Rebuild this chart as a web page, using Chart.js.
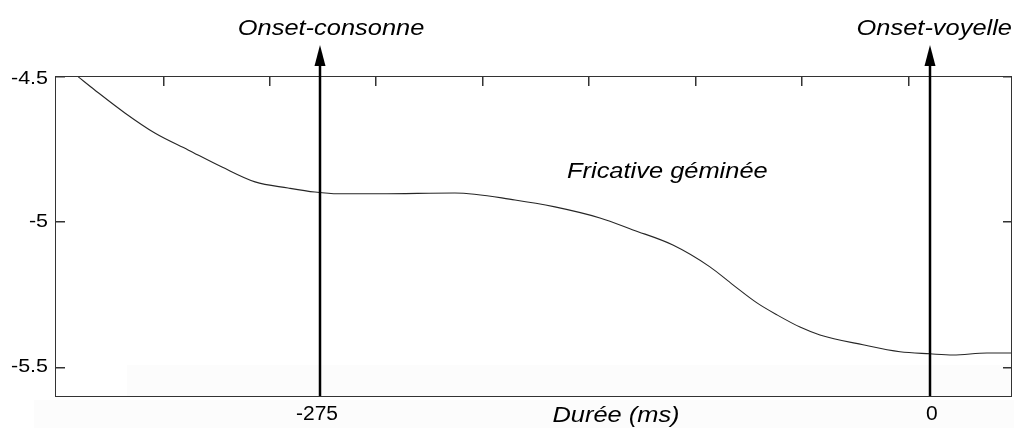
<!DOCTYPE html>
<html>
<head>
<meta charset="utf-8">
<script src="https://cdn.jsdelivr.net/npm/chart.js@4/dist/chart.umd.min.js"></script>
<style>
  body { margin: 0; background: #fff; }
  #wrap { width: 1014px; height: 428px; position: relative; }
</style>
</head>
<body>
<div id="wrap"><canvas id="chart1"></canvas></div>
<script>
// durée (ms) relative to vowel onset
var durations = [-384, -376.6, -363, -349.5, -334.5, -319.2, -304.3, -289.4, -277.3, -266.9, -248, -214.2, -187.1, -169.1, -148.8, -133.9, -115.9, -99.2, -88.8, -78, -69, -58.6, -49.6, -30.2, -13.5, 0, 10.4, 25.7, 37.4]
var amplitudes = [-4.503, -4.548, -4.627, -4.696, -4.754, -4.813, -4.864, -4.885, -4.899, -4.905, -4.905, -4.902, -4.926, -4.95, -4.988, -5.029, -5.081, -5.156, -5.218, -5.28, -5.321, -5.363, -5.39, -5.424, -5.448, -5.455, -5.459, -5.452, -5.452]

var yTickValues = [-5.5, -5, -4.5]
var xTickValues = [-275, 0]
var topTickValues = [-346, -298, -250, -202, -154, -106, -58, -10]
var onsetLabels = ["Onset-consonne", "Onset-voyelle"]
var seriesLabel = "Fricative géminée"
var xTitle = "Durée (ms)"

var xMin = -394.5, xMax = 37
var yMin = -5.6, yMax = -4.5

function stretchText(ctx, txt, x, y, align, sx) {
  ctx.save()
  ctx.translate(x, y)
  ctx.scale(sx, 1)
  ctx.textAlign = align
  ctx.fillText(txt, 0, 0)
  ctx.restore()
}

var framePlugin = {
  id: 'frame',
  beforeDraw: function (chart) {
    var ctx = chart.ctx
    var a = chart.chartArea
    ctx.save()
    ctx.fillStyle = '#fcfcfc'
    ctx.fillRect(127, 365, a.right - 127, a.bottom - 365)
    ctx.fillRect(34, a.bottom + 4, chart.width - 34, chart.height - a.bottom - 4)
    ctx.restore()
  },
  afterDraw: function (chart) {
    var ctx = chart.ctx
    var a = chart.chartArea
    var xs = chart.scales.x
    var ys = chart.scales.y
    ctx.save()

    // box and inward ticks, as filled rectangles
    ctx.fillStyle = '#333'
    ctx.fillRect(a.left, a.top, a.right - a.left, 1)
    ctx.fillRect(a.left, a.bottom, a.right - a.left, 1)
    ctx.fillRect(a.left, a.top, 1, a.bottom - a.top)
    ctx.fillRect(a.right - 1, a.top, 1, a.bottom - a.top)
    yTickValues.forEach(function (v) {
      var py = Math.round(ys.getPixelForValue(v))
      ctx.fillRect(a.left, py, 10, 1.5)
      ctx.fillRect(a.right - 9, py, 9, 1.5)
    })
    topTickValues.forEach(function (v) {
      var px = Math.round(xs.getPixelForValue(v))
      ctx.fillRect(px, a.top, 1.5, 10)
    })

    // y tick labels
    ctx.fillStyle = '#000'
    ctx.font = '19px "Liberation Sans", Arial, sans-serif'
    ctx.textBaseline = 'middle'
    ys.ticks.forEach(function (t) {
      var py = ys.getPixelForValue(t.value)
      if (t.value === -4.5) py += 3
      stretchText(ctx, String(t.value), 48, py, 'right', 1.13)
    })

    // x tick labels
    ctx.textBaseline = 'alphabetic'
    ctx.font = '20px "Liberation Sans", Arial, sans-serif'
    xs.ticks.forEach(function (t) {
      var px = xs.getPixelForValue(t.value)
      stretchText(ctx, String(t.value), px - 3 + (t.value === 0 ? 5 : 0), 420, 'center', 1.05)
    })

    // onset arrows
    ctx.strokeStyle = '#000'
    ctx.fillStyle = '#000'
    ctx.lineWidth = 2.5
    xTickValues.forEach(function (v) {
      var px = Math.round(xs.getPixelForValue(v))
      ctx.beginPath()
      ctx.moveTo(px, a.bottom)
      ctx.lineTo(px, 62)
      ctx.stroke()
      ctx.beginPath()
      ctx.moveTo(px, 45)
      ctx.lineTo(px - 5.5, 66)
      ctx.lineTo(px + 5.5, 66)
      ctx.closePath()
      ctx.fill()
    })

    // italic annotations
    ctx.font = 'italic 22.5px "Liberation Sans", Arial, sans-serif'
    ctx.textBaseline = 'alphabetic'
    stretchText(ctx, onsetLabels[0], xs.getPixelForValue(xTickValues[0]) + 11, 35, 'center', 1.13)
    stretchText(ctx, onsetLabels[1], 1012, 35, 'right', 1.13)
    stretchText(ctx, seriesLabel, 567, 178, 'left', 1.13)
    stretchText(ctx, xTitle, 616, 422, 'center', 1.13)

    ctx.restore()
  }
}

var points = durations.map(function (d, i) { return { x: d, y: amplitudes[i] } })

var c1 = document.getElementById('chart1').getContext('2d')
var chart = new Chart(c1, {
  type: 'line',
  data: {
    datasets: [{
      label: seriesLabel,
      data: points,
      borderColor: '#262626',
      borderWidth: 1.1,
      pointRadius: 0,
      fill: false,
      cubicInterpolationMode: 'monotone'
    }]
  },
  options: {
    responsive: true,
    maintainAspectRatio: false,
    animation: false,
    layout: { padding: { top: 76, right: 2, left: 0, bottom: 0 } },
    plugins: { legend: { display: false }, tooltip: { enabled: false } },
    scales: {
      x: {
        type: 'linear',
        min: xMin,
        max: xMax,
        grid: { display: false },
        border: { display: false },
        ticks: { display: false },
        afterBuildTicks: function (scale) {
          scale.ticks = xTickValues.map(function (v) { return { value: v } })
        },
        afterFit: function (scale) { scale.height = 32 }
      },
      y: {
        min: yMin,
        max: yMax,
        grid: { display: false },
        border: { display: false },
        ticks: { display: false },
        afterBuildTicks: function (scale) {
          scale.ticks = yTickValues.map(function (v) { return { value: v } })
        },
        afterFit: function (scale) { scale.width = 55 }
      }
    }
  },
  plugins: [framePlugin]
})
</script>
</body>
</html>
